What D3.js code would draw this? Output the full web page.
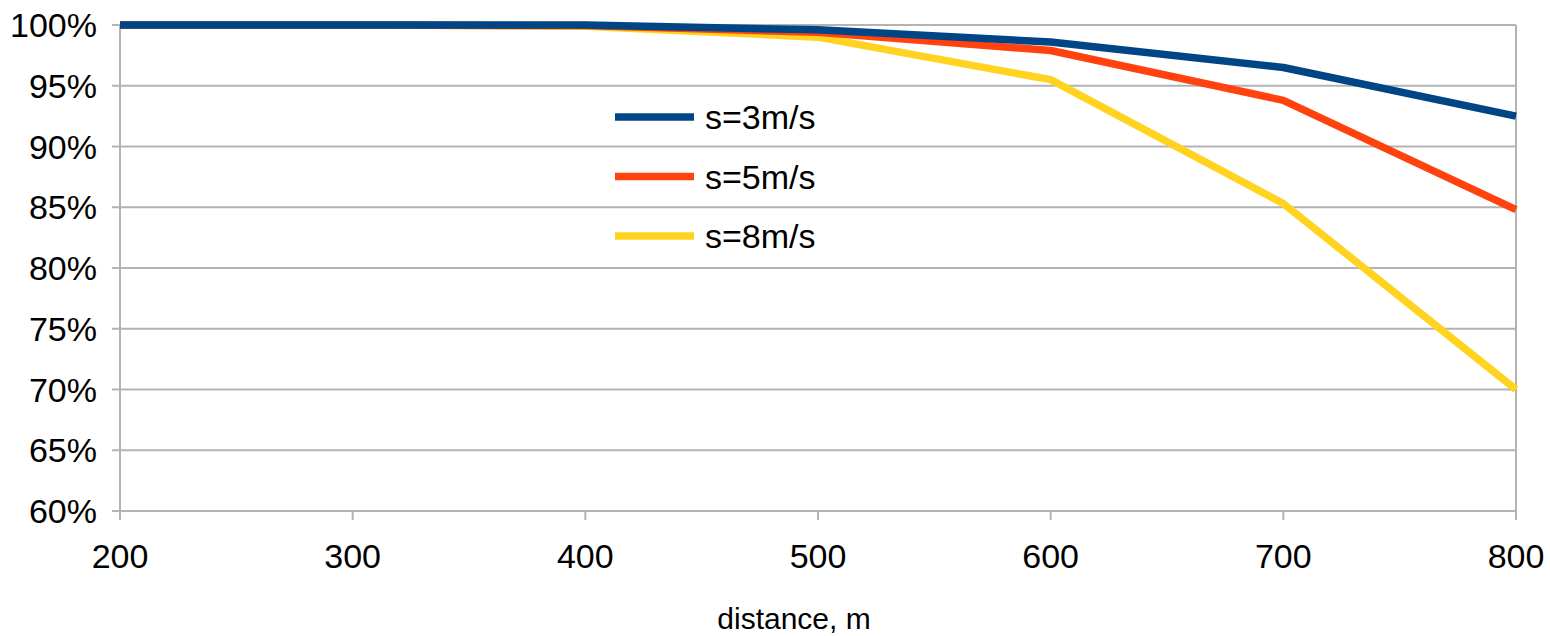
<!DOCTYPE html>
<html>
<head>
<meta charset="utf-8">
<script src="https://cdn.jsdelivr.net/npm/d3@7"></script>
<style>
  body { margin: 0; background: #fff; }
  text { font-family: "Liberation Sans", Arial, sans-serif; fill: #000; }
</style>
</head>
<body>
<div id="chart-area"></div>
<script>
// chart data
var distances = [200, 300, 400, 500, 600, 700, 800];
var yTicks = [60, 65, 70, 75, 80, 85, 90, 95, 100];
var seriesNames = ["s=3m/s", "s=5m/s", "s=8m/s"];
var seriesColours = ["#004586", "#ff420e", "#ffd320"];
var s3 = [100, 100, 100, 99.6, 98.6, 96.5, 92.5];
var s5 = [100, 100, 99.95, 99.4, 97.9, 93.8, 84.8];
var s8 = [100, 100, 99.9, 99.0, 95.5, 85.3, 70.0];

var width = 1550, height = 636;
const margin = { top: 25, right: 34, bottom: 125, left: 120 };

var svg = d3.select("#chart-area").append("svg")
  .attr("width", width)
  .attr("height", height);

var x = d3.scaleLinear()
  .domain([200, 800])
  .range([margin.left, width - margin.right]);

var y = d3.scaleLinear()
  .domain([60, 100])
  .range([height - margin.bottom, margin.top]);

// horizontal grid
svg.append("g")
  .selectAll("line")
  .data(yTicks)
  .enter()
  .append("line")
  .attr("x1", x(200) - 8)
  .attr("x2", x(800))
  .attr("y1", d => y(d))
  .attr("y2", d => y(d))
  .style("stroke", "#b3b3b3")
  .style("stroke-width", 2);

// axes lines
svg.append("line")
  .attr("x1", x(200)).attr("x2", x(200))
  .attr("y1", y(100)).attr("y2", y(60) + 9)
  .style("stroke", "#b3b3b3").style("stroke-width", 2);
svg.append("line")
  .attr("x1", x(800)).attr("x2", x(800))
  .attr("y1", y(100)).attr("y2", y(60) + 9)
  .style("stroke", "#b3b3b3").style("stroke-width", 2);

// x ticks
svg.append("g")
  .selectAll("line")
  .data(distances)
  .enter()
  .append("line")
  .attr("x1", d => x(d)).attr("x2", d => x(d))
  .attr("y1", y(60)).attr("y2", y(60) + 9)
  .style("stroke", "#b3b3b3").style("stroke-width", 2);

// y tick labels
svg.append("g")
  .selectAll("text")
  .data(yTicks)
  .enter()
  .append("text")
  .attr("x", x(200) - 23)
  .attr("y", d => y(d) + 12)
  .style("text-anchor", "end")
  .style("font-size", "34px")
  .text(d => d + "%");

// x tick labels
svg.append("g")
  .selectAll("text")
  .data(distances)
  .enter()
  .append("text")
  .attr("x", d => x(d))
  .attr("y", y(60) + 57)
  .style("text-anchor", "middle")
  .style("font-size", "34px")
  .text(d => d);

// axis title
svg.append("text")
  .attr("x", 794)
  .attr("y", 629)
  .style("text-anchor", "middle")
  .style("font-size", "30px")
  .text("distance, m");

// series lines (drawn last-first so s=3 sits on top)
var series = [s3, s5, s8];
var line = d3.line()
  .x((d, i) => x(distances[i]))
  .y(d => y(d));

svg.append("g")
  .selectAll("path")
  .data(series.slice().reverse())
  .enter()
  .append("path")
  .attr("d", d => line(d))
  .style("fill", "none")
  .style("stroke", (d, i) => seriesColours[series.length - 1 - i])
  .style("stroke-width", 7.5)
  .style("stroke-linejoin", "round");

// legend
var legend = svg.append("g")
  .selectAll("g")
  .data(seriesNames)
  .enter()
  .append("g")
  .attr("transform", (d, i) => `translate(615, ${117 + i * 59.5})`);

legend.append("line")
  .attr("x1", 0).attr("x2", 79)
  .attr("y1", 0).attr("y2", 0)
  .style("stroke", (d, i) => seriesColours[i])
  .style("stroke-width", 7.5);

legend.append("text")
  .attr("x", 90)
  .attr("y", 12)
  .style("font-size", "34px")
  .text(d => d);
</script>
</body>
</html>
